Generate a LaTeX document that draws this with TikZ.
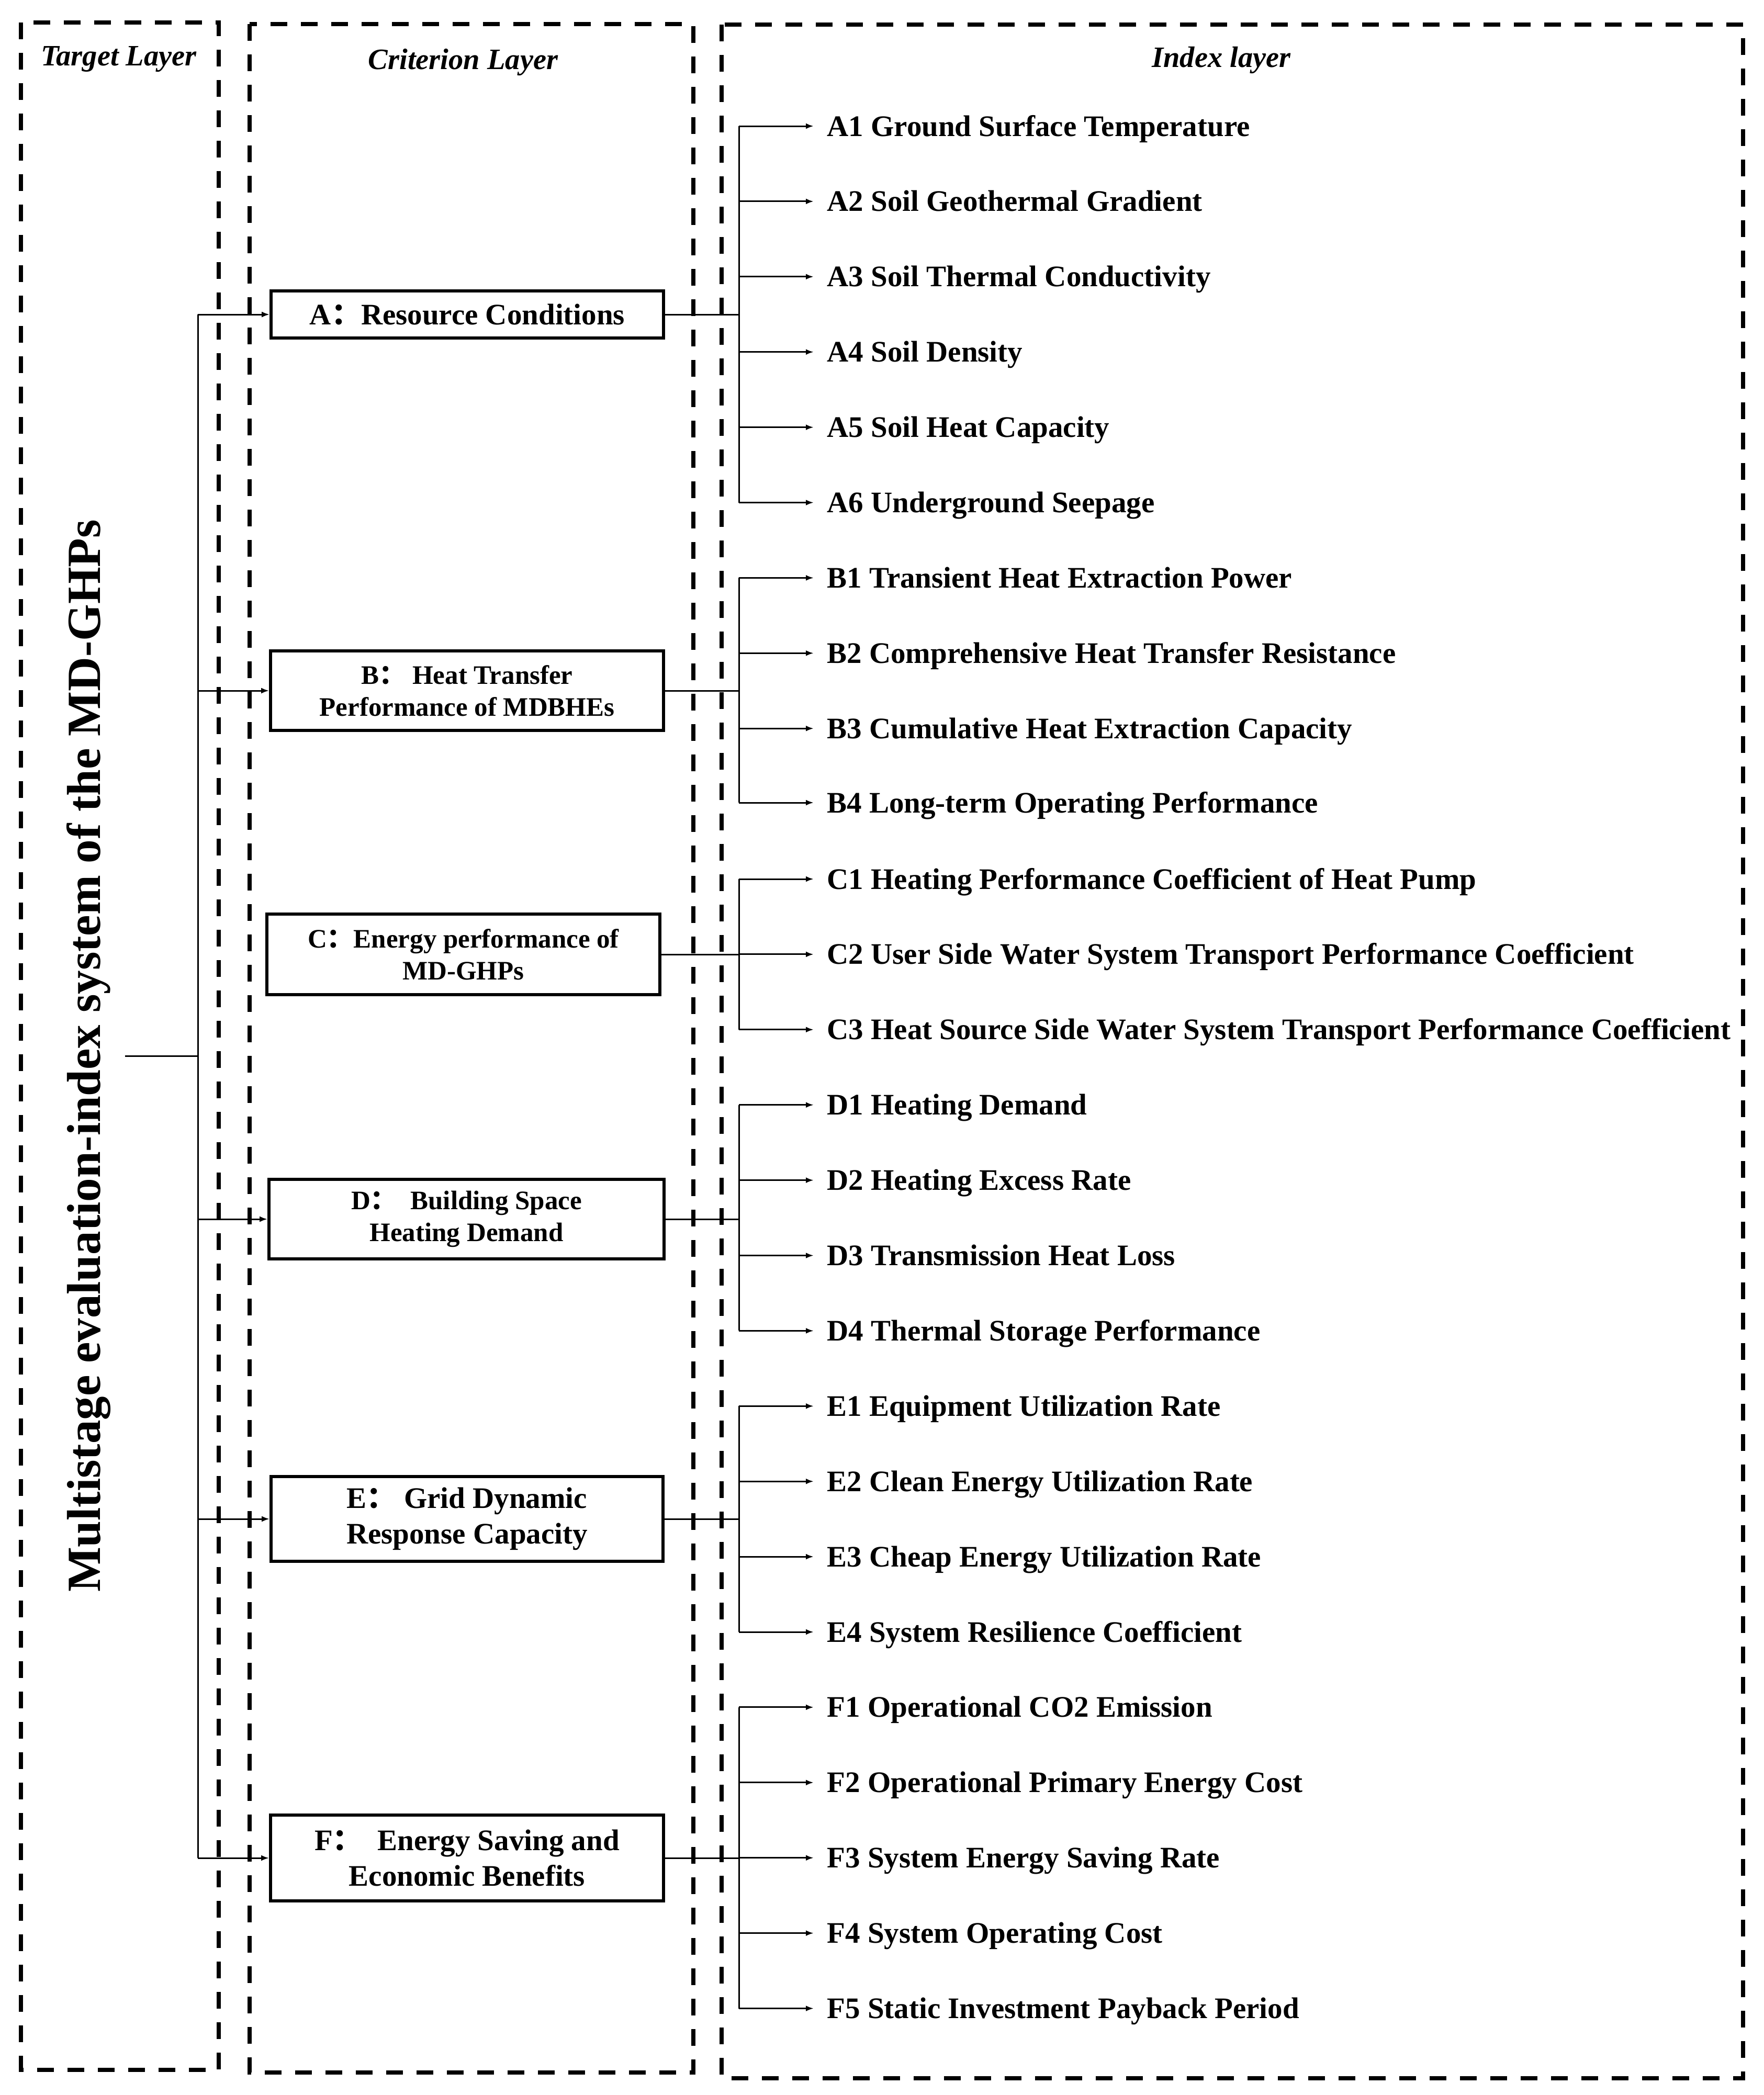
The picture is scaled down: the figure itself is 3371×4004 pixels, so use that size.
\documentclass[tikz,border=0pt]{standalone}
\usepackage{fontspec}
\setmainfont{Liberation Serif}
\newfontfamily\cjk{Noto Sans CJK SC}
\newcommand{\fwcolon}{{\cjk ：}}
\usetikzlibrary{arrows.meta}
\begin{document}
\begin{tikzpicture}[x=0.2pt,y=-0.2pt,
  line width=0.6pt,
  arr/.style={-{Latex[length=3pt,width=2.2pt]}},
  frame/.style={line width=1.6pt, dash pattern=on 6.4pt off 5.2pt},
  crit/.style={draw, line width=1.1pt, inner sep=0pt, align=center},
  fbig/.style={font=\bfseries\fontsize{11.4pt}{13.68pt}\selectfont},
  fsmall/.style={font=\bfseries\fontsize{10.2pt}{12.24pt}\selectfont},
  item/.style={anchor=west, inner xsep=4.8pt, inner ysep=0pt, text height=7.6pt, text depth=0pt,
    font=\bfseries\fontsize{11.4pt}{13.68pt}\selectfont},
  head/.style={anchor=base, inner sep=0pt, font=\bfseries\itshape\fontsize{11.3pt}{13.5pt}\selectfont}]
\useasboundingbox (0,0) rectangle (3371,4004);

% layer frames
\draw[frame] (40,43) rectangle (418,3956);
\draw[frame] (477,46) rectangle (1325,3961);
\draw[frame] (1379,47) rectangle (3331,3972);

% headers
\node[head] (tl) at (227,125) {Target Layer};
\node[head] (cl) at (885,132) {Criterion Layer};
\node[head] (il) at (2334,128) {Index layer};

% target
\node[rotate=90, anchor=base, inner xsep=0pt, inner ysep=5pt,
  font=\bfseries\fontsize{18.2pt}{20pt}\selectfont] (goal) at (192,2018)
  {Multistage evaluation-index system of the MD-GHPs};

% criterion boxes
\node[crit,fbig,minimum width=150pt,minimum height=18pt] (A) at (893,601) {A\fwcolon Resource Conditions};
\node[crit,fsmall,minimum width=150.2pt,minimum height=30.4pt] (B) at (892.5,1320) {B\fwcolon\ Heat Transfer\\Performance of MDBHEs};
\node[crit,fsmall,minimum width=150.2pt,minimum height=30.8pt] (C) at (885.5,1824) {C\fwcolon Energy performance of\\MD-GHPs};
\node[crit,fsmall,minimum width=151pt,minimum height=30.4pt] (D) at (891.5,2330) {D\fwcolon\ \ Building Space\\Heating Demand};
\node[crit,fbig,minimum width=149.8pt,minimum height=32.4pt] (E) at (892.5,2903) {E\fwcolon\ Grid Dynamic\\Response Capacity};
\node[crit,fbig,minimum width=150.2pt,minimum height=32.8pt] (F) at (892.5,3551) {F\fwcolon\ \ Energy Saving and\\Economic Benefits};

% index items
\node[item] (a1) at (1555,241) {A1 Ground Surface Temperature};
\node[item] (a2) at (1555,384.9) {A2 Soil Geothermal Gradient};
\node[item] (a3) at (1555,528.8) {A3 Soil Thermal Conductivity};
\node[item] (a4) at (1555,672.7) {A4 Soil Density};
\node[item] (a5) at (1555,816.6) {A5 Soil Heat Capacity};
\node[item] (a6) at (1555,960.5) {A6 Underground Seepage};
\node[item] (b1) at (1555,1104.4) {B1 Transient Heat Extraction Power};
\node[item] (b2) at (1555,1248.3) {B2 Comprehensive Heat Transfer Resistance};
\node[item] (b3) at (1555,1392.2) {B3 Cumulative Heat Extraction Capacity};
\node[item] (b4) at (1555,1534) {B4 Long-term Operating Performance};
\node[item] (c1) at (1555,1680) {C1 Heating Performance Coefficient of Heat Pump};
\node[item] (c2) at (1555,1823.9) {C2 User Side Water System Transport Performance Coefficient};
\node[item] (c3) at (1555,1967.8) {C3 Heat Source Side Water System Transport Performance Coefficient};
\node[item] (d1) at (1555,2111.7) {D1 Heating Demand};
\node[item] (d2) at (1555,2255.6) {D2 Heating Excess Rate};
\node[item] (d3) at (1555,2399.5) {D3 Transmission Heat Loss};
\node[item] (d4) at (1555,2543.4) {D4 Thermal Storage Performance};
\node[item] (e1) at (1555,2687.3) {E1 Equipment Utilization Rate};
\node[item] (e2) at (1555,2831.2) {E2 Clean Energy Utilization Rate};
\node[item] (e3) at (1555,2975.1) {E3 Cheap Energy Utilization Rate};
\node[item] (e4) at (1555,3119) {E4 System Resilience Coefficient};
\node[item] (f1) at (1555,3262.9) {F1 Operational CO2 Emission};
\node[item] (f2) at (1555,3406.8) {F2 Operational Primary Energy Cost};
\node[item] (f3) at (1555,3550.7) {F3 System Energy Saving Rate};
\node[item] (f4) at (1555,3694.6) {F4 System Operating Cost};
\node[item] (f5) at (1555,3838.5) {F5 Static Investment Payback Period};

% trunk
\coordinate (trunk) at (378,2018);
\draw (goal.south) -- (trunk);
\draw (trunk |- A.west) -- (trunk |- F.west);
\foreach \b in {A,B,D,E,F} \draw[arr] (trunk |- \b.west) -- (\b.west);

% branches
\coordinate (bx) at (1412,0);
\foreach \b/\first/\last in {A/a1/a6,B/b1/b4,C/c1/c3,D/d1/d4,E/e1/e4,F/f1/f5} {
  \draw (\b.east) -- (bx |- \b.east);
  \draw (bx |- \first.west) -- (bx |- \last.west);
}
\foreach \n in {a1,a2,a3,a4,a5,a6,b1,b2,b3,b4,c1,c2,c3,d1,d2,d3,d4,e1,e2,e3,e4,f1,f2,f3,f4,f5}
  \draw[arr] (bx |- \n.west) -- (\n.west);
\end{tikzpicture}
\end{document}
